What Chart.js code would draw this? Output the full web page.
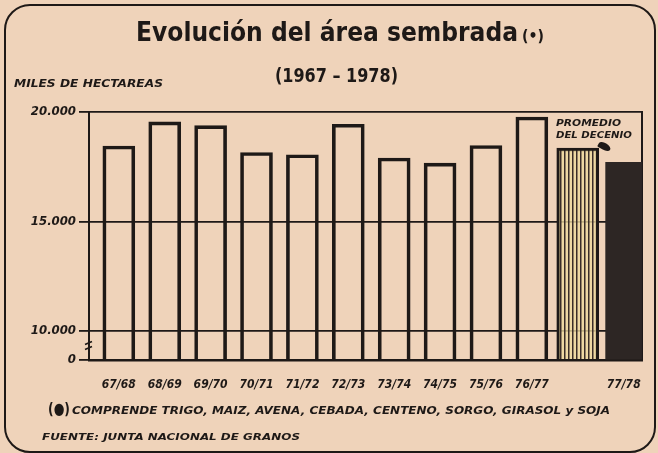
<!DOCTYPE html>
<html lang="es">
  <head>
    <meta charset="UTF-8" />
    <title>Evolución del área sembrada (1967 - 1978)</title>
    <script src="https://cdn.jsdelivr.net/npm/chart.js"></script>
    <style>
      html,
      body {
        margin: 0;
        width: 658px;
        height: 453px;
        overflow: hidden;
        background: #efd3ba;
        color: #1e1917;
      }
      #marco {
        position: absolute;
        left: 4px;
        top: 4px;
        width: 652px;
        height: 449px;
        border: 2.5px solid #1e1917;
        border-radius: 26px;
        box-sizing: border-box;
      }
      #grafico {
        position: absolute;
        left: 0;
        top: 0;
      }
      .txt {
        position: absolute;
        white-space: nowrap;
        line-height: 1;
        transform-origin: left top;
      }
      .titulo {
        font-family: "Liberation Sans Narrow", "DejaVu Sans Condensed", sans-serif;
        font-weight: 700;
      }
      .mano {
        font-family: "DejaVu Sans Condensed", "DejaVu Sans", sans-serif;
        font-style: italic;
        font-weight: 700;
      }
      #flecha {
        position: absolute;
        left: 598px;
        top: 143px;
        width: 13px;
        height: 7px;
        background: #1e1917;
        border-radius: 50% 50% 50% 10%;
        transform: rotate(30deg);
      }
    </style>
  </head>
  <body>
    <div id="marco"></div>
    <canvas id="grafico" width="658" height="453"></canvas>

    <div class="txt titulo" id="titulo" data-w="382" style="left: 136px; top: 18px; font-size: 27px">Evolución del área sembrada</div>
    <div class="txt titulo" id="nota" data-w="22" style="left: 522px; top: 29px; font-size: 15px">(•)</div>
    <div class="txt titulo" id="periodo" data-w="123" style="left: 275px; top: 66px; font-size: 19px">(1967 – 1978)</div>
    <div class="txt mano" id="unidad" data-w="149" style="left: 14px; top: 79px; font-size: 10px">MILES DE HECTAREAS</div>
    <div class="txt mano" data-w="65" style="left: 556px; top: 119px; font-size: 8.5px">PROMEDIO</div>
    <div class="txt mano" data-w="76" style="left: 556px; top: 131px; font-size: 8.5px">DEL DECENIO</div>
    <div id="flecha"></div>
    <div class="txt titulo" data-w="22" style="left: 48px; top: 401px; font-size: 16px">(●)</div>
    <div class="txt mano" data-w="538" style="left: 72px; top: 405px; font-size: 11px">COMPRENDE TRIGO, MAIZ, AVENA, CEBADA, CENTENO, SORGO, GIRASOL y SOJA</div>
    <div class="txt mano" data-w="258" style="left: 42px; top: 433px; font-size: 9px">FUENTE: JUNTA NACIONAL DE GRANOS</div>

    <script>
      // miles de hectáreas
      const campanas = ["67/68", "68/69", "69/70", "70/71", "71/72", "72/73", "73/74", "74/75", "75/76", "76/77", "", "77/78"];
      const areaSembrada = [18450, 19550, 19380, 18150, 18050, 19440, 17900, 17670, 18470, 19770];
      const promedioDecenio = [18350];
      const campana7778 = [17700];
      const marcasY = [10000, 15000, 20000];

      const tinta = "#1e1917";
      const corte = 8680; // el eje está cortado entre 0 y 10.000

      // ajustar el ancho de los textos
      document.querySelectorAll(".txt").forEach((el) => {
        const w = el.getBoundingClientRect().width;
        el.style.transform = "scaleX(" + el.dataset.w / w + ")";
      });

      function rayado() {
        const c = document.createElement("canvas");
        c.width = 4;
        c.height = 8;
        const g = c.getContext("2d");
        g.fillStyle = "rgba(238, 218, 158, 0.8)";
        g.fillRect(0, 0, 4, 8);
        g.fillStyle = "#3a2d28";
        g.fillRect(0, 0, 1.5, 8);
        return g.createPattern(c, "repeat");
      }

      const bordes = {
        id: "bordes",
        beforeDatasetsDraw(chart) {
          const { ctx, chartArea: a } = chart;
          ctx.save();
          ctx.strokeStyle = tinta;
          ctx.lineWidth = 2;
          ctx.beginPath();
          ctx.moveTo(a.right, a.top - 1);
          ctx.lineTo(a.right, a.bottom);
          ctx.stroke();
          // marca de corte del eje
          const y = chart.scales.y;
          const m = (y.getPixelForValue(10000) + y.getPixelForValue(corte)) / 2;
          ctx.lineWidth = 1.6;
          ctx.beginPath();
          ctx.moveTo(a.left - 4, m - 1);
          ctx.lineTo(a.left + 3, m - 4);
          ctx.moveTo(a.left - 4, m + 4);
          ctx.lineTo(a.left + 3, m + 1);
          ctx.stroke();
          ctx.restore();
        },
      };

      const fuente = { family: "'DejaVu Sans Condensed', 'DejaVu Sans', sans-serif", style: "italic", weight: "bold" };

      new Chart(document.getElementById("grafico"), {
        type: "bar",
        data: {
          datasets: [
            {
              data: areaSembrada.map((v, i) => ({ x: i, y: v })),
              backgroundColor: "transparent",
              borderColor: tinta,
              borderWidth: 3,
              barThickness: 32,
            },
            {
              data: promedioDecenio.map((v) => ({ x: 10, y: v })),
              backgroundColor: rayado(),
              borderColor: tinta,
              borderWidth: 3,
              barThickness: 42,
            },
            {
              data: campana7778.map((v) => ({ x: 11, y: v })),
              backgroundColor: "#2d2624",
              borderColor: "#2d2624",
              borderWidth: 0,
              barThickness: 36,
            },
          ],
        },
        options: {
          responsive: false,
          animation: false,
          datasets: { bar: { grouped: false, base: corte, borderSkipped: "start" } },
          layout: { padding: { left: 0, top: 112, right: 16, bottom: 63 } },
          plugins: { legend: { display: false }, tooltip: { enabled: false } },
          scales: {
            x: {
              type: "linear",
              offset: false,
              min: -0.65,
              max: 11.4,
              afterFit: (s) => (s.height = 30),
              afterBuildTicks: (s) => (s.ticks = campanas.map((c, i) => ({ value: i }))),
              grid: { display: false },
              border: { display: true, color: tinta, width: 2.5 },
              ticks: {
                color: tinta,
                padding: 10,
                maxRotation: 0,
                autoSkip: false,
                font: { ...fuente, size: 12 },
                callback: (v) => campanas[v],
              },
            },
            y: {
              min: corte,
              max: 20000,
              afterFit: (s) => (s.width = 89),
              afterBuildTicks: (s) => (s.ticks = [corte, ...marcasY].map((v) => ({ value: v }))),
              grid: { color: tinta, lineWidth: 1.8, drawTicks: true, tickLength: 10 },
              border: { display: true, color: tinta, width: 2 },
              ticks: {
                color: tinta,
                padding: 3,
                font: { ...fuente, size: 13 },
                callback: (v) => (v === corte ? "0" : v.toLocaleString("de-DE")),
              },
            },
          },
        },
        plugins: [bordes],
      });
    </script>
  </body>
</html>
